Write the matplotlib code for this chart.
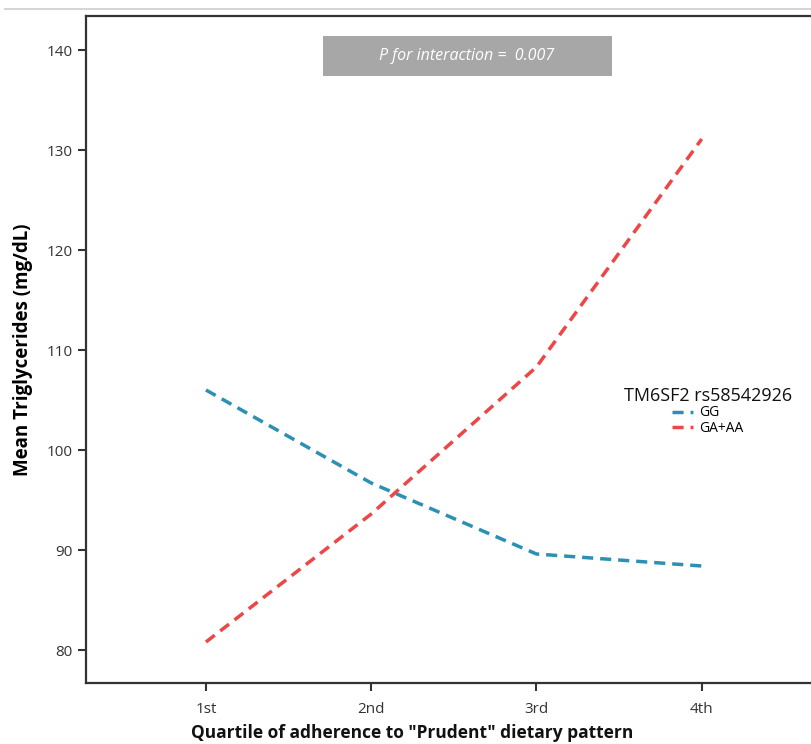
import matplotlib.pyplot as plt
from matplotlib.lines import Line2D

quartiles = ['1st', '2nd', '3rd', '4th']
gg = [106.0, 96.7, 89.6, 88.4]
ga_aa = [80.8, 93.6, 108.3, 131.1]
p_text = 'P for interaction =  0.007'

plt.rcParams['font.family'] = ['Open Sans', 'DejaVu Sans']

fig = plt.figure(figsize=(8.11, 7.44), dpi=100)
W, H = 811, 744
# axes runs off the right edge, like the cropped original
ax = fig.add_axes([86 / W, (H - 683) / H, 814 / W, 667 / H])

x = [1, 2, 3, 4]
ax.plot(x, gg, color='#2b90b3', lw=2.5, dashes=(3.2, 2.0), label='GG')
ax.plot(x, ga_aa, color='#ee4646', lw=2.5, dashes=(3.2, 2.0), label='GA+AA')

ax.set_xlim(0.274, 5.2)
ax.set_ylim(76.7, 143.4)
ax.set_xticks(x)
ax.set_xticklabels(quartiles)
ax.set_yticks([80, 90, 100, 110, 120, 130, 140])

for s in ax.spines.values():
    s.set_linewidth(1.6)
    s.set_color('#333333')
ax.tick_params(direction='out', length=6, width=1.5, color='#333333',
               labelsize=11, labelcolor='#333333')
ax.tick_params(axis='x', pad=8)

ax.set_ylabel('Mean Triglycerides (mg/dL)', fontsize=13.5, fontweight='bold', labelpad=10)
fig.text(412 / W, (H - 733) / H, 'Quartile of adherence to "Prudent" dietary pattern',
         ha='center', va='center', fontsize=12.5, fontweight='bold', color='#111111')

ax.add_patch(plt.Rectangle(((323 - 86) / 814, (683 - 76) / 667), 289 / 814, 40 / 667,
                           transform=ax.transAxes, fc='#a7a7a7', ec='none', zorder=0))
ax.text((467 - 86) / 814, (683 - 56) / 667, p_text, transform=ax.transAxes,
        ha='center', va='center', color='white', fontsize=11.5, style='italic')

leg = ax.legend(title='TM6SF2 rs58542926', loc='upper left',
                bbox_to_anchor=((614 - 86) / 814, (683 - 377) / 667),
                frameon=False, fontsize=10, title_fontsize=13,
                handlelength=1.5, handletextpad=0.5, labelspacing=0.05,
                borderpad=0.2)
leg._legend_box.align = 'center'
leg.get_title().set_color('#111111')

fig.add_artist(Line2D([5 / W, 1], [(H - 9) / H, (H - 9) / H], color='#d6d6d6', lw=1.5))

fig.savefig('out.png', dpi=100)
